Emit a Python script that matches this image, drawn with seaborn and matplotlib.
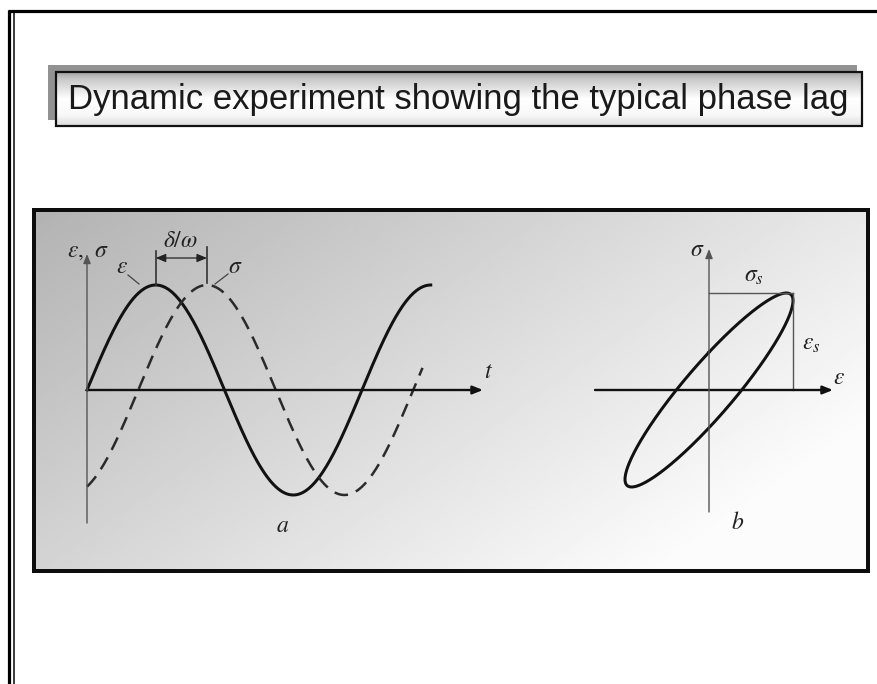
import numpy as np
import pandas as pd
import matplotlib
matplotlib.use("Agg")
import matplotlib.pyplot as plt
from matplotlib.patches import Rectangle
import seaborn as sns

# ---- diagram a: strain and stress waves ----
strain_cycles = 1.25        # periods of strain shown
stress_cycles = 1.22        # periods of stress shown
strain_amplitude = 1.0
stress_amplitude = 1.0
phase_lag = 1.17            # delta in radians (stress lags by delta/omega)

# ---- diagram b: hysteresis loop ----
loop_strain_amplitude = 1.0
loop_stress_amplitude = 1.0
loop_phase_lag = 0.40

title_text = "Dynamic experiment showing the typical phase lag"
panel_labels = ["a", "b"]
sub = "s"

plt.rcParams["mathtext.fontset"] = "stix"

W, H = 878, 684
fig = plt.figure(figsize=(W / 100, H / 100), dpi=100)
fig.patch.set_facecolor("white")

bg = fig.add_axes([0, 0, 1, 1])
bg.set_xlim(0, W)
bg.set_ylim(H, 0)
bg.axis("off")

PT = 72 / 100  # points per pixel

# slide frame
bg.plot([8, W], [11, 11], color="black", lw=3.2 * PT, solid_capstyle="butt")
bg.plot([9.5, 9.5], [10, H], color="black", lw=3.2 * PT, solid_capstyle="butt")
bg.plot([14.2, 14.2], [13, H], color="black", lw=1.5 * PT, solid_capstyle="butt")

# title box with shadow and soft vertical gradient
bg.add_patch(Rectangle((48, 65), 809, 55, facecolor="#929292", edgecolor="none", zorder=2))
yy = np.linspace(0, 1, 120)
title_grad = np.interp(yy, [0, 0.12, 0.5, 0.8, 1.0], [0.64, 0.78, 1.0, 0.97, 0.86])
bg.imshow(np.tile(title_grad[:, None], (1, 4)), cmap="gray", vmin=0, vmax=1,
          extent=(56, 862, 126, 72), aspect="auto", interpolation="bilinear", zorder=3)
bg.add_patch(Rectangle((56, 72), 806, 54, facecolor="none", edgecolor="#111111",
                       lw=2.2 * PT, zorder=4))
bg.text(458, 99, title_text, ha="center", va="center", fontsize=25,
        family="Liberation Sans", color="#1a1a1a", zorder=5)

# gradient panel
px0, py0, px1, py1 = 34.5, 209.5, 868, 571
xn = np.linspace(0, 1, 400)[None, :]
yn = np.linspace(0, 1, 200)[:, None]
panel_grad = np.clip(0.70 + 0.21 * xn + 0.13 * yn, 0, 0.985)
bg.imshow(panel_grad, cmap="gray", vmin=0, vmax=1, extent=(px0, px1, py1, py0),
          aspect="auto", interpolation="bilinear", zorder=1)
bg.add_patch(Rectangle((px0, py0), px1 - px0, py1 - py0, facecolor="none",
                       edgecolor="#0d0d0d", lw=4.0 * PT, zorder=6))
bg.set_xlim(0, W)
bg.set_ylim(H, 0)


def px_axes(x0, y0, x1, y1):
    ax = fig.add_axes([x0 / W, 1 - y1 / H, (x1 - x0) / W, (y1 - y0) / H])
    ax.set_facecolor("none")
    ax.axis("off")
    return ax


def arrow(ax, start, tip, color, lw, ms=11):
    ax.annotate("", xy=tip, xytext=start,
                arrowprops=dict(arrowstyle="-|>,head_length=0.55,head_width=0.22",
                                color=color, lw=lw, shrinkA=0, shrinkB=0,
                                mutation_scale=ms))


label_kw = dict(fontsize=17, color="#222222", ha="center", va="center")

# ---------------- diagram a ----------------
ax0x, ax0y, per_px, amp_px = 87, 390, 275, 105
ax_a = px_axes(50, 225, 515, 545)
t_strain = np.linspace(0, strain_cycles, 500)
t_stress = np.linspace(0, stress_cycles, 500)
waves_strain = pd.DataFrame({"t": t_strain,
                             "value": strain_amplitude * np.sin(2 * np.pi * t_strain)})
waves_stress = pd.DataFrame({"t": t_stress,
                             "value": stress_amplitude * np.sin(2 * np.pi * t_stress - phase_lag)})
sns.lineplot(data=waves_strain, x="t", y="value", ax=ax_a, color="#111111",
             lw=3.0 * PT, estimator=None, sort=False, legend=False)
sns.lineplot(data=waves_stress, x="t", y="value", ax=ax_a, color="#2a2a2a",
             lw=2.5 * PT, estimator=None, sort=False, legend=False,
             linestyle=(0, (5.5, 3.4)))
ax_a.set_xlim((50 - ax0x) / per_px, (515 - ax0x) / per_px)
ax_a.set_ylim((ax0y - 545) / amp_px, (ax0y - 225) / amp_px)
ax_a.axis("off")

# axes of diagram a
arrow(ax_a, (0, 0), ((483 - ax0x) / per_px, 0), "#111111", 1.7 * PT * 1.39)
arrow(ax_a, (0, (ax0y - 523) / amp_px), (0, (ax0y - 254) / amp_px), "#555555", 1.0, ms=10)

# delta/omega marker
t_peak_strain = 0.25
t_peak_stress = 0.25 + phase_lag / (2 * np.pi)
y_arrow = (ax0y - 258) / amp_px
ax_a.plot([t_peak_strain] * 2, [1.0, (ax0y - 251) / amp_px], color="#333333", lw=1.2)
ax_a.plot([t_peak_stress] * 2, [(ax0y - 283) / amp_px, (ax0y - 247) / amp_px],
          color="#333333", lw=1.2)
ax_a.annotate("", xy=(t_peak_stress, y_arrow), xytext=(t_peak_strain, y_arrow),
              arrowprops=dict(arrowstyle="<|-|>,head_length=0.6,head_width=0.25",
                              color="#222222", lw=0.9, shrinkA=0, shrinkB=0,
                              mutation_scale=10))
ax_a.text((180 - ax0x) / per_px, (ax0y - 240) / amp_px, r"$\delta/\omega$", **label_kw)

# curve labels with leaders
ax_a.plot([(128 - ax0x) / per_px, (139 - ax0x) / per_px],
          [(ax0y - 275) / amp_px, (ax0y - 284) / amp_px], color="#444444", lw=0.9)
ax_a.text((122 - ax0x) / per_px, (ax0y - 266) / amp_px, r"$\varepsilon$", **label_kw)
ax_a.plot([(228 - ax0x) / per_px, (215 - ax0x) / per_px],
          [(ax0y - 274) / amp_px, (ax0y - 284) / amp_px], color="#444444", lw=0.9)
ax_a.text((235 - ax0x) / per_px, (ax0y - 266) / amp_px, r"$\sigma$", **label_kw)

ax_a.text((75 - ax0x) / per_px, (ax0y - 250) / amp_px, r"$\varepsilon,$", **label_kw)
ax_a.text((101 - ax0x) / per_px, (ax0y - 250) / amp_px, r"$\sigma$", **label_kw)
ax_a.text((489 - ax0x) / per_px, (ax0y - 371) / amp_px, r"$t$", **label_kw)
ax_a.text((283 - ax0x) / per_px, (ax0y - 525) / amp_px, rf"${panel_labels[0]}$", **label_kw)

# ---------------- diagram b ----------------
bx0, by0, bx_px, by_px = 709, 390, 84, 97
ax_b = px_axes(585, 235, 855, 540)
theta = np.linspace(0, 2 * np.pi, 600)
loop = pd.DataFrame({"strain": loop_strain_amplitude * np.sin(theta),
                     "stress": loop_stress_amplitude * np.sin(theta + loop_phase_lag)})
sns.lineplot(data=loop, x="strain", y="stress", ax=ax_b, color="#111111",
             lw=3.0 * PT, estimator=None, sort=False, legend=False)
ax_b.set_xlim((585 - bx0) / bx_px, (855 - bx0) / bx_px)
ax_b.set_ylim((by0 - 540) / by_px, (by0 - 235) / by_px)
ax_b.axis("off")

arrow(ax_b, ((595 - bx0) / bx_px, 0), ((833 - bx0) / bx_px, 0), "#111111", 1.7 * PT * 1.39)
arrow(ax_b, (0, (by0 - 512) / by_px), (0, (by0 - 249) / by_px), "#555555", 1.0, ms=10)

ax_b.plot([0, loop_strain_amplitude], [loop_stress_amplitude] * 2, color="#555555", lw=1.0)
ax_b.plot([loop_strain_amplitude] * 2, [0, loop_stress_amplitude], color="#555555", lw=1.0)

ax_b.text((697 - bx0) / bx_px, (by0 - 249) / by_px, r"$\sigma$", **label_kw)
ax_b.text((839 - bx0) / bx_px, (by0 - 377) / by_px, r"$\varepsilon$", **label_kw)
ax_b.text((754 - bx0) / bx_px, (by0 - 275) / by_px, rf"$\sigma_{sub}$", **label_kw)
ax_b.text((811 - bx0) / bx_px, (by0 - 343) / by_px, rf"$\varepsilon_{sub}$", **label_kw)
ax_b.text((738 - bx0) / bx_px, (by0 - 522) / by_px, rf"${panel_labels[1]}$", **label_kw)

fig.savefig("out.png", dpi=100, facecolor="white")
